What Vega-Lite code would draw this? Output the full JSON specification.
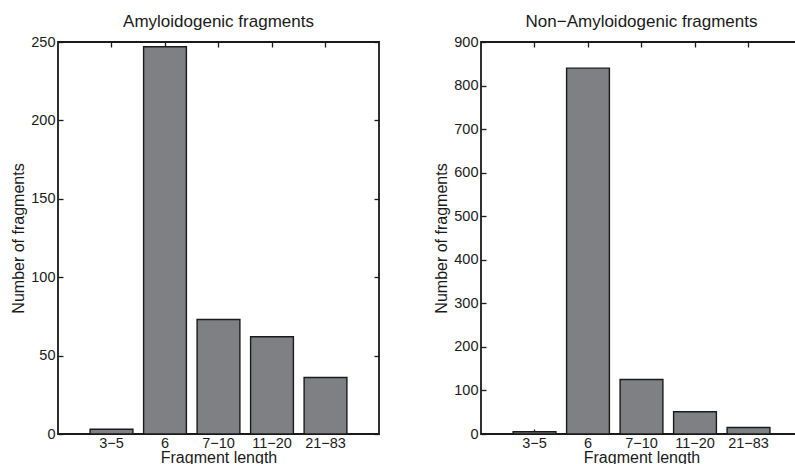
{
  "$schema": "https://vega.github.io/schema/vega-lite/v6.json",
  "background": "white",
  "padding": {"left": 9, "top": 12, "right": 0, "bottom": 0},
  "bounds": "flush",
  "spacing": 102,
  "config": {
    "font": "Liberation Sans",
    "view": {"stroke": "#1a1a1a", "strokeWidth": 1.8},
    "axis": {
      "domain": false,
      "grid": false,
      "labelFont": "Liberation Sans",
      "labelFontSize": 14.5,
      "labelColor": "#1a1a1a",
      "tickColor": "#1a1a1a",
      "tickWidth": 1.3,
      "tickSize": -5,
      "titleFont": "Liberation Sans",
      "titleFontSize": 16,
      "titleFontWeight": "normal",
      "titleColor": "#1a1a1a"
    },
    "title": {"font": "Liberation Sans", "fontSize": 17, "fontWeight": "normal", "color": "#1a1a1a", "baseline": "alphabetic", "offset": 3}
  },
  "datasets": {
    "amy": [
      {"length": "3−5", "count": 3},
      {"length": "6", "count": 247},
      {"length": "7−10", "count": 73},
      {"length": "11−20", "count": 62},
      {"length": "21−83", "count": 36}
    ],
    "non": [
      {"length": "3−5", "count": 5},
      {"length": "6", "count": 840},
      {"length": "7−10", "count": 125},
      {"length": "11−20", "count": 51},
      {"length": "21−83", "count": 15}
    ]
  },
  "hconcat": [
    {
      "title": "Amyloidogenic fragments",
      "width": 321,
      "height": 392,
      "data": {"name": "amy"},
      "layer": [
        {
          "mark": {"type": "bar", "fill": "#7f8084", "stroke": "#1a1a1a", "strokeWidth": 1.4},
          "encoding": {
            "x": {"field": "length", "type": "nominal", "sort": null,
                  "scale": {"paddingInner": 0.2, "paddingOuter": 0.6},
                  "axis": {"orient": "bottom", "labelAngle": 0, "labelPadding": 7, "title": "Fragment length", "titlePadding": 0}},
            "y": {"field": "count", "type": "quantitative",
                  "scale": {"domain": [0, 250], "nice": false},
                  "axis": {"orient": "left", "values": [0, 50, 100, 150, 200, 250], "labelPadding": 8, "title": "Number of fragments", "titlePadding": 4}}
          }
        },
        {
          "mark": {"type": "bar", "opacity": 0},
          "encoding": {
            "x": {"field": "length", "type": "nominal", "sort": null,
                  "axis": {"orient": "top", "labels": false, "title": null}},
            "y": {"field": "count", "type": "quantitative",
                  "axis": {"orient": "right", "labels": false, "title": null, "values": [0, 50, 100, 150, 200, 250]}}
          }
        }
      ],
      "resolve": {"axis": {"x": "independent", "y": "independent"}}
    },
    {
      "title": "Non−Amyloidogenic fragments",
      "width": 321,
      "height": 392,
      "data": {"name": "non"},
      "layer": [
        {
          "mark": {"type": "bar", "fill": "#7f8084", "stroke": "#1a1a1a", "strokeWidth": 1.4},
          "encoding": {
            "x": {"field": "length", "type": "nominal", "sort": null,
                  "scale": {"paddingInner": 0.2, "paddingOuter": 0.6},
                  "axis": {"orient": "bottom", "labelAngle": 0, "labelPadding": 7, "title": "Fragment length", "titlePadding": 0}},
            "y": {"field": "count", "type": "quantitative",
                  "scale": {"domain": [0, 900], "nice": false},
                  "axis": {"orient": "left", "values": [0, 100, 200, 300, 400, 500, 600, 700, 800, 900], "labelPadding": 8, "title": "Number of fragments", "titlePadding": 4}}
          }
        },
        {
          "mark": {"type": "bar", "opacity": 0},
          "encoding": {
            "x": {"field": "length", "type": "nominal", "sort": null,
                  "axis": {"orient": "top", "labels": false, "title": null}},
            "y": {"field": "count", "type": "quantitative",
                  "axis": {"orient": "right", "labels": false, "title": null, "values": [0, 100, 200, 300, 400, 500, 600, 700, 800, 900]}}
          }
        }
      ],
      "resolve": {"axis": {"x": "independent", "y": "independent"}}
    }
  ]
}
